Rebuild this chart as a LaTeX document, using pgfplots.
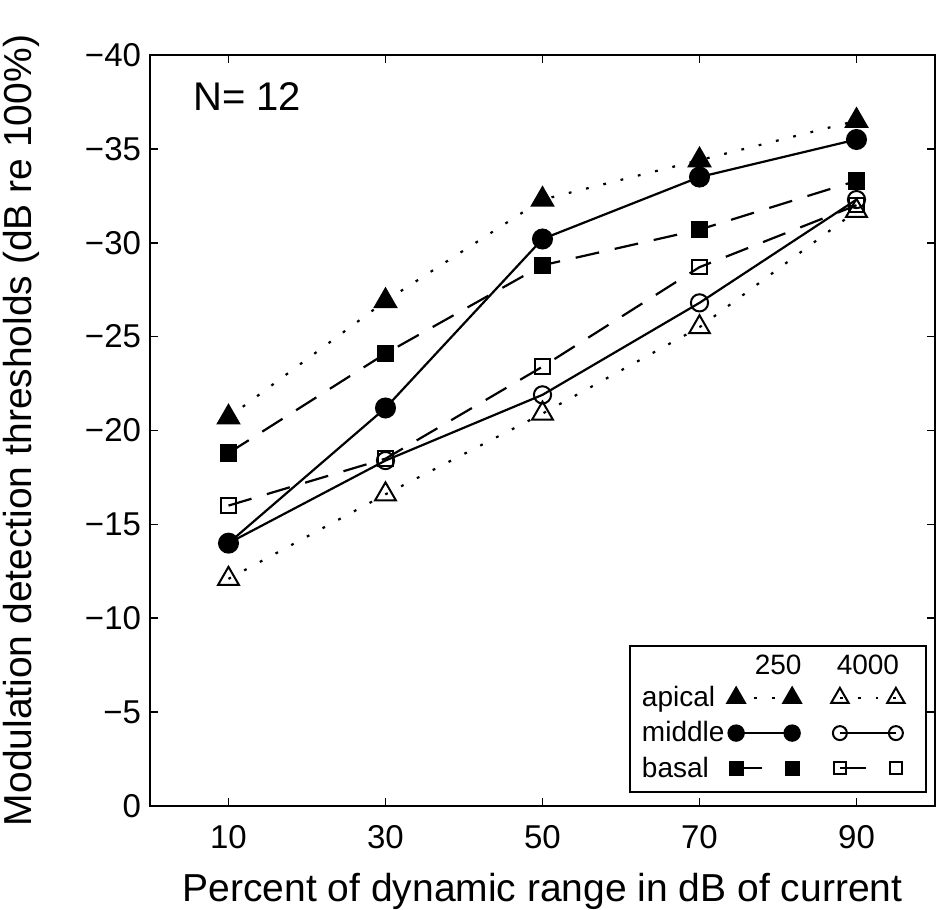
\documentclass[border=0pt]{standalone}
\usepackage{fontspec}
\setmainfont{Liberation Sans}
\usepackage{pgfplots}
\pgfplotsset{compat=1.18}
\pgfplotsset{
  twomarkA/.style={legend image code/.code={\draw[##1] plot coordinates {(0bp,0bp) (28bp,0bp)}; \path (44bp,0bp);}},
  twomarkB/.style={legend image code/.code={\draw[##1] plot coordinates {(0bp,0bp) (28bp,0bp)}; \path (35bp,0bp);}},
  hdr/.style 2 args={legend image code/.code={\node[inner sep=0pt, anchor=center] at (#2,0bp) {#1};}},
  apicalS/.style={black, line width=1.1bp, dash pattern=on 1.4bp off 7.5bp},
  middleS/.style={black, line width=1.1bp, solid},
  basalS/.style={black, line width=1.1bp, dash pattern=on 12bp off 8bp},
}
\begin{document}
\begin{tikzpicture}
\begin{axis}[
  scale only axis,
  width=392.5bp, height=375.5bp,
  xmin=0, xmax=100, ymin=-40, ymax=0,
  y dir=reverse,
  xtick={10,30,50,70,90},
  xticklabels={10,30,50,70,90},
  ytick={-40,-35,-30,-25,-20,-15,-10,-5,0},
  yticklabels={−40,−35,−30,−25,−20,−15,−10,−5,0},
  /pgf/number format/assume math mode=true,
  tick align=inside,
  major tick length=4bp,
  tick style={black, line width=0.8bp},
  axis line style={black, line width=1bp},
  tick label style={font=\fontsize{16.5bp}{19bp}\selectfont},
  xticklabel style={yshift=-6bp},
  yticklabel style={xshift=-1bp},
  label style={font=\fontsize{19.5bp}{23bp}\selectfont},
  xlabel={Percent of dynamic range in dB of current},
  ylabel={Modulation detection thresholds (dB re 100\%)},
  xlabel shift=5.5bp,
  ylabel shift=16bp,
  legend columns=3,
  legend cell align=left,
  legend style={at={(0.9898,0.0173)}, anchor=south east, draw=black, line width=1bp,
    font=\fontsize{14bp}{16bp}\selectfont, row sep=3bp, column sep=0bp,
    inner sep=4.5bp, nodes={inner sep=1.5bp}},
]
% apical 250
\addplot[apicalS, mark=triangle*, mark size=6bp, mark options={solid, fill=black}, forget plot]
  coordinates {(10,-20.7) (30,-26.9) (50,-32.3) (70,-34.4) (90,-36.5)};
% middle 250
\addplot[middleS, mark=*, mark size=4.7bp, mark options={solid, fill=black}, forget plot]
  coordinates {(10,-14.0) (30,-21.2) (50,-30.2) (70,-33.5) (90,-35.5)};
% basal 250
\addplot[basalS, mark=square*, mark size=3.8bp, mark options={solid, fill=black}, forget plot]
  coordinates {(10,-18.8) (30,-24.1) (50,-28.8) (70,-30.7) (90,-33.3)};
% apical 4000
\addplot[apicalS, mark=triangle, mark size=6bp, mark options={solid, line width=1bp}, forget plot]
  coordinates {(10,-12.1) (30,-16.6) (50,-20.9) (70,-25.5) (90,-31.7)};
% middle 4000
\addplot[middleS, mark=o, mark size=4.3bp, mark options={solid, line width=1bp}, forget plot]
  coordinates {(10,-14.0) (30,-18.4) (50,-21.9) (70,-26.8) (90,-32.3)};
% basal 4000
\addplot[basalS, mark=square, mark size=3.6bp, mark options={solid, line width=1bp}, forget plot]
  coordinates {(10,-16.0) (30,-18.5) (50,-23.4) (70,-28.7) (90,-32.0)};

\node[anchor=west, font=\fontsize{20bp}{24bp}\selectfont] at (axis cs:4.6,-37.8) {N= 12};

% legend
\addlegendimage{empty legend}\addlegendentry{}
\addlegendimage{hdr={250}{21bp}}\addlegendentry{}
\addlegendimage{hdr={4000}{14bp}}\addlegendentry{}
\addlegendimage{empty legend}\addlegendentry{apical}
\addlegendimage{apicalS, mark=triangle*, mark size=5bp, mark options={solid, fill=black}, twomarkA}\addlegendentry{}
\addlegendimage{apicalS, mark=triangle, mark size=5bp, mark options={solid, line width=1bp}, twomarkB}\addlegendentry{}
\addlegendimage{empty legend}\addlegendentry{middle}
\addlegendimage{middleS, mark=*, mark size=3.8bp, mark options={solid, fill=black}, twomarkA}\addlegendentry{}
\addlegendimage{middleS, mark=o, mark size=3.5bp, mark options={solid, line width=1bp}, twomarkB}\addlegendentry{}
\addlegendimage{empty legend}\addlegendentry{basal}
\addlegendimage{basalS, dash pattern=on 13bp off 20bp, mark=square*, mark size=3.2bp, mark options={solid, fill=black}, twomarkA}\addlegendentry{}
\addlegendimage{basalS, dash pattern=on 13bp off 20bp, mark=square, mark size=3bp, mark options={solid, line width=1bp}, twomarkB}\addlegendentry{}
\end{axis}
\pgfresetboundingbox
\path (current axis.south west) +(-75bp,-52bp) +(397bp,403bp);
\end{tikzpicture}
\end{document}
